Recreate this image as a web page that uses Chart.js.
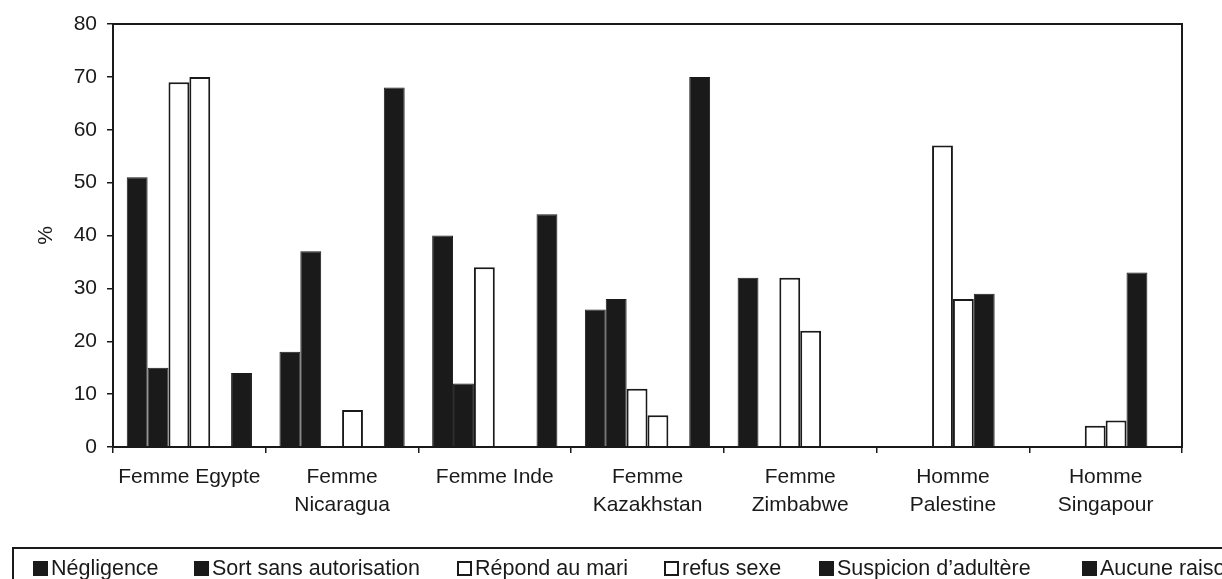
<!DOCTYPE html>
<html>
<head>
<meta charset="utf-8">
<script src="https://cdn.jsdelivr.net/npm/chart.js@4.4.1/dist/chart.umd.min.js"></script>
<style>
  html, body { margin: 0; padding: 0; background: #fff; overflow: hidden; }
  #wrap { position: relative; width: 1222px; height: 579px; overflow: hidden; }
  #c { position: absolute; left: 0; top: 0; }
  #legend { position: absolute; left: 12px; top: 547px; width: 1300px; height: 60px;
            border-top: 2px solid #1a1a1a; border-left: 2px solid #1a1a1a; box-sizing: border-box;
            font-family: "Liberation Sans", Arial, sans-serif; font-size: 21.5px; color: #1a1a1a; }
  .item { position: absolute; top: 7px; white-space: nowrap; line-height: 24px; }
  .sw { display: inline-block; width: 11px; height: 11px; border: 2px solid #1a1a1a; vertical-align: -1px; margin-right: 3px; }
</style>
</head>
<body>
<div id="wrap">
  <canvas id="c" width="1222" height="579"></canvas>
  <div id="legend"></div>
</div>
<script>
const categories = [
  ['Femme Egypte'], ['Femme', 'Nicaragua'], ['Femme Inde'], ['Femme', 'Kazakhstan'],
  ['Femme', 'Zimbabwe'], ['Homme', 'Palestine'], ['Homme', 'Singapour']
];
const seriesNames = ['Négligence', 'Sort sans autorisation', 'Répond au mari', 'refus sexe', 'Suspicion d\u2019adultère', 'Aucune raison'];
const negligence  = [51, 18, 40, 26, 32, 0, 0];
const sortSans    = [15, 37, 12, 28, 0, 0, 0];
const repondMari  = [69, 0, 34, 11, 32, 57, 4];
const refusSexe   = [70, 7, 0, 6, 22, 28, 5];
const suspicion   = [0, 0, 0, 0, 0, 29, 33];
const aucuneRaison= [14, 68, 44, 70, 0, 0, 0];
const yTicks = [0, 10, 20, 30, 40, 50, 60, 70, 80];

const seriesValues = [negligence, sortSans, repondMari, refusSexe, suspicion, aucuneRaison];
const DARK = '#1a1a1a';
const fills = [DARK, DARK, '#ffffff', '#ffffff', DARK, DARK];
const legendLeft = [19, 180, 443, 650, 805, 1068];

const datasets = seriesNames.map((n, i) => ({
  label: n,
  data: seriesValues[i],
  backgroundColor: fills[i],
  borderColor: DARK,
  borderWidth: fills[i] === DARK ? 1 : 2,
  categoryPercentage: 0.82,
  barPercentage: 1.0
}));

const frame = {
  id: 'frame',
  afterDatasetsDraw(chart) {
    const a = chart.chartArea, ctx = chart.ctx;
    ctx.save();
    ctx.strokeStyle = DARK;
    ctx.lineWidth = 2;
    ctx.strokeRect(a.left, a.top, a.right - a.left, a.bottom - a.top);
    ctx.restore();
  }
};

const font = { family: '"Liberation Sans", Arial, sans-serif', size: 21 };

new Chart(document.getElementById('c'), {
  type: 'bar',
  data: { labels: categories, datasets },
  options: {
    responsive: false,
    animation: false,
    layout: { padding: { top: 24, right: 40, left: 0, bottom: 0 } },
    plugins: { legend: { display: false }, tooltip: { enabled: false } },
    scales: {
      x: {
        grid: { display: true, drawOnChartArea: false, drawTicks: true, tickLength: 6, color: DARK, lineWidth: 1.5 },
        border: { display: true, color: DARK, width: 2 },
        ticks: { color: DARK, font: { ...font, lineHeight: 1.3 }, padding: 11, maxRotation: 0, autoSkip: false },
        afterFit: (s) => { s.height = 132; }
      },
      y: {
        min: 0, max: 80,
        afterBuildTicks: (s) => { s.ticks = yTicks.map(v => ({ value: v })); },
        grid: { display: true, drawOnChartArea: false, drawTicks: true, tickLength: 6, color: DARK, lineWidth: 1.5 },
        border: { display: true, color: DARK, width: 2 },
        ticks: { color: DARK, font, padding: 10 },
        title: { display: true, text: '%', color: DARK, font, padding: { top: 34, bottom: 0 } },
        afterFit: (s) => { s.width = 113; }
      }
    }
  },
  plugins: [frame]
});

const lg = document.getElementById('legend');
seriesNames.forEach((n, i) => {
  const d = document.createElement('div');
  d.className = 'item';
  d.style.left = legendLeft[i] + 'px';
  const sw = document.createElement('span');
  sw.className = 'sw';
  sw.style.background = fills[i];
  d.appendChild(sw);
  d.appendChild(document.createTextNode(n));
  lg.appendChild(d);
});
</script>
</body>
</html>
